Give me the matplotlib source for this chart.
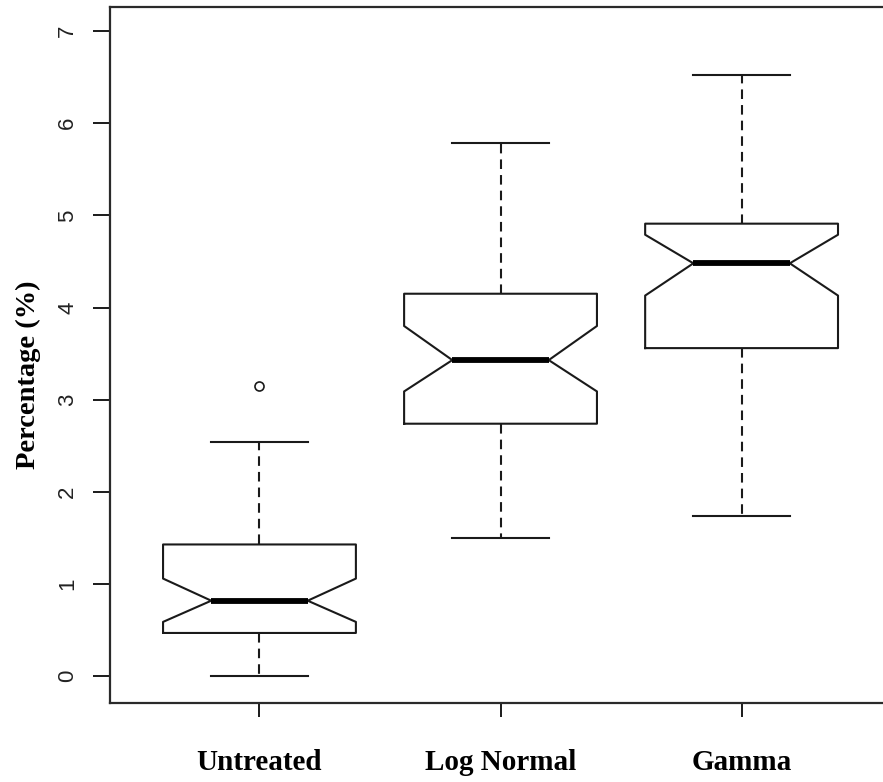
import matplotlib
matplotlib.use("Agg")
import matplotlib.pyplot as plt

# five-number summaries with notch limits, per treatment
groups = ["Untreated", "Log Normal", "Gamma"]
whisker_low = [0.00, 1.50, 1.74]
q1 = [0.47, 2.74, 3.56]
notch_low = [0.59, 3.09, 4.13]
medians = [0.82, 3.43, 4.48]
notch_high = [1.06, 3.80, 4.79]
q3 = [1.43, 4.15, 4.91]
whisker_high = [2.54, 5.78, 6.52]
outliers = [[3.15], [], []]


def build_stats():
    stats = []
    for i, name in enumerate(groups):
        stats.append({
            "label": name,
            "whislo": whisker_low[i],
            "q1": q1[i],
            "cilo": notch_low[i],
            "med": medians[i],
            "cihi": notch_high[i],
            "q3": q3[i],
            "whishi": whisker_high[i],
            "fliers": outliers[i],
        })
    return stats


def main():
    fig = plt.figure(figsize=(8.83, 7.82), dpi=100)
    ax = fig.add_axes([0.1246, 0.101, 0.8845, 0.890])

    line = "#1a1a1a"
    ax.bxp(
        build_stats(),
        positions=[1, 2, 3],
        widths=0.8,
        shownotches=True,
        boxprops=dict(color=line, linewidth=1.5),
        whiskerprops=dict(color=line, linewidth=1.5, linestyle=(0, (4.6, 2.9))),
        capprops=dict(color=line, linewidth=1.5),
        medianprops=dict(color="black", linewidth=4.2, solid_capstyle="butt"),
        flierprops=dict(marker="o", markersize=6.5, markerfacecolor="none",
                        markeredgecolor=line, markeredgewidth=1.2),
    )

    ax.set_xlim(0.38, 3.62)
    ax.set_ylim(-0.29, 7.26)

    ax.set_yticks(range(0, 8))
    ax.set_yticklabels([str(v) for v in range(0, 8)], rotation=90, va="center",
                       family="Liberation Sans", fontsize=16, color="#222222")
    ax.set_xticks([1, 2, 3])
    ax.set_xticklabels(groups, family="Liberation Serif", fontweight="bold",
                       fontsize=21)

    ax.tick_params(axis="y", length=12, width=1.4, color=line, pad=11)
    ax.tick_params(axis="x", length=10, width=1.4, color=line, pad=23)

    for side in ax.spines.values():
        side.set_linewidth(1.6)
        side.set_color("#2a2a2a")

    ax.set_ylabel("Percentage (%)", family="Liberation Serif", fontweight="bold",
                  fontsize=20.5, va="center")
    ax.yaxis.set_label_coords(-0.104, 0.471)

    fig.savefig("out.png", dpi=100)


if __name__ == "__main__":
    main()
